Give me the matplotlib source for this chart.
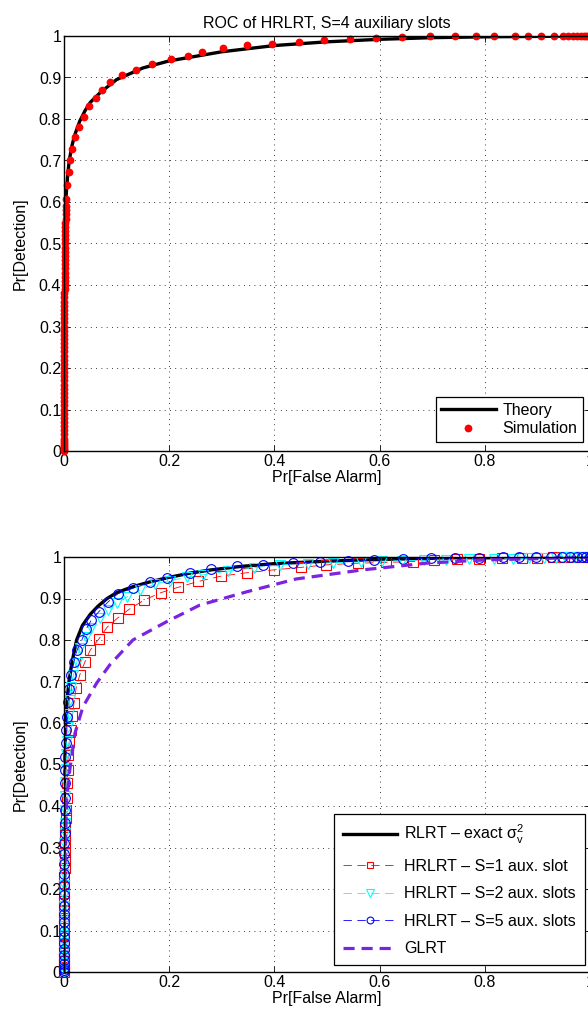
#!/usr/bin/env python
import matplotlib
matplotlib.use('Agg')
import matplotlib.pyplot as plt

# ---- top panel: ROC of HRLRT, S=4 ----
theory_pfa = [0.0, 0.0005, 0.001, 0.002, 0.004, 0.007, 0.01, 0.015, 0.02, 0.03, 0.04, 0.05,
              0.07, 0.1, 0.15, 0.2, 0.3, 0.4, 0.5, 0.6, 0.7, 0.8, 0.9, 1.0]
theory_pd = [0.0, 0.3, 0.42, 0.53, 0.615, 0.665, 0.70, 0.735, 0.76, 0.795, 0.82, 0.84,
             0.865, 0.895, 0.923, 0.94, 0.962, 0.977, 0.986, 0.992, 0.996, 0.998, 0.999, 1.0]

sim_pfa_low = [0.0, 0.0, 0.0, 0.0, 0.0, 0.0, 0.0, 0.0, 0.0, 0.0, 0.0, 0.0, 0.0,
               0.00003, 0.00004, 0.00005, 0.00006, 0.00007, 0.00008, 0.0001, 0.00011,
               0.00013, 0.00015, 0.00017, 0.0002,
               0.00022, 0.00025, 0.00028, 0.00031, 0.00034, 0.00037, 0.0004, 0.00044,
               0.00048, 0.0005,
               0.00055, 0.0006, 0.00065, 0.0007, 0.00075, 0.0008, 0.00087, 0.00094,
               0.001, 0.00105,
               0.0011, 0.0012, 0.0013, 0.0014, 0.0015, 0.0016, 0.0017, 0.0018, 0.0019, 0.002,
               0.0022, 0.0023, 0.0025, 0.0026, 0.0028, 0.003, 0.0031, 0.0033, 0.0035]
sim_pd_low = [0.0, 0.003, 0.006, 0.01, 0.015, 0.02, 0.025, 0.03, 0.04, 0.05, 0.06, 0.07, 0.08,
              0.09, 0.10, 0.11, 0.12, 0.13, 0.14, 0.15, 0.16, 0.17, 0.18, 0.19, 0.20,
              0.21, 0.22, 0.23, 0.24, 0.25, 0.26, 0.27, 0.28, 0.29, 0.30,
              0.31, 0.32, 0.33, 0.34, 0.35, 0.36, 0.37, 0.38, 0.39, 0.40,
              0.41, 0.42, 0.43, 0.44, 0.45, 0.46, 0.47, 0.48, 0.49, 0.50,
              0.51, 0.52, 0.53, 0.54, 0.55, 0.56, 0.57, 0.58, 0.59]
sim_pfa_high = [0.004, 0.0064, 0.009, 0.012, 0.016, 0.021, 0.028, 0.038, 0.048, 0.060,
                0.073, 0.088, 0.111, 0.137, 0.167, 0.203, 0.235, 0.263, 0.302, 0.347,
                0.396, 0.447, 0.495, 0.544, 0.593, 0.643, 0.696, 0.744, 0.784, 0.818,
                0.858, 0.883, 0.907, 0.931, 0.949, 0.959, 0.967, 0.975, 0.982, 0.988,
                0.993, 0.997, 1.0]
sim_pd_high = [0.608, 0.640, 0.672, 0.702, 0.727, 0.757, 0.781, 0.806, 0.831, 0.851,
               0.869, 0.888, 0.907, 0.919, 0.933, 0.944, 0.952, 0.962, 0.971, 0.978,
               0.981, 0.985, 0.990, 0.992, 0.994, 0.998, 0.999, 0.999, 0.999, 1.0,
               1.0, 1.0, 1.0, 1.0, 1.0, 1.0, 1.0, 1.0, 1.0, 1.0,
               1.0, 1.0, 1.0]

# ---- bottom panel: comparison ----
rlrt_pfa = [0.0, 0.0003, 0.001, 0.002, 0.004, 0.007, 0.0095, 0.015, 0.024, 0.035, 0.05, 0.065,
            0.082, 0.1, 0.13, 0.163, 0.2, 0.239, 0.28, 0.334, 0.4, 0.5, 0.6, 0.7, 0.8, 0.9, 1.0]
rlrt_pd = [0.0, 0.3, 0.45, 0.55, 0.62, 0.67, 0.70, 0.745, 0.80, 0.835, 0.862, 0.882,
           0.90, 0.914, 0.928, 0.94, 0.951, 0.961, 0.969, 0.977, 0.984, 0.99, 0.994, 0.997,
           0.998, 0.999, 1.0]

s1_pfa = [0.0, 0.0, 0.0, 0.0, 0.0, 0.0001, 0.0001, 0.0002, 0.0002, 0.0003, 0.0004,
          0.0005, 0.0006, 0.0008, 0.001, 0.0012, 0.0015, 0.0018, 0.0022, 0.0027, 0.0033,
          0.004, 0.005, 0.006, 0.007, 0.008, 0.010, 0.013, 0.016, 0.019, 0.023, 0.030,
          0.040, 0.050, 0.066, 0.082, 0.102, 0.124, 0.152, 0.184, 0.217, 0.255, 0.299,
          0.347, 0.399, 0.451, 0.498, 0.558, 0.612, 0.663, 0.704, 0.748, 0.789, 0.833,
          0.87, 0.90, 0.93, 0.95, 0.97, 0.985, 1.0]
s1_pd = [0.0, 0.01, 0.02, 0.035, 0.05, 0.07, 0.09, 0.11, 0.13, 0.15, 0.17,
         0.19, 0.21, 0.23, 0.25, 0.27, 0.29, 0.31, 0.33, 0.35, 0.37,
         0.39, 0.42, 0.455, 0.487, 0.523, 0.555, 0.583, 0.616, 0.648, 0.684, 0.716,
         0.748, 0.776, 0.802, 0.831, 0.853, 0.874, 0.896, 0.914, 0.927, 0.941, 0.954,
         0.962, 0.969, 0.975, 0.981, 0.985, 0.987, 0.989, 0.993, 0.995, 0.996, 0.997,
         0.998, 0.998, 0.999, 0.999, 1.0, 1.0, 1.0]

s2_pfa = [0.0, 0.0, 0.0, 0.0, 0.0, 0.0001, 0.0001, 0.0001, 0.0002, 0.0002, 0.0003,
          0.0004, 0.0005, 0.0006, 0.0007, 0.0009, 0.0011, 0.0013, 0.0016, 0.002, 0.0025,
          0.003, 0.004, 0.005, 0.007, 0.009, 0.011, 0.014, 0.018, 0.024, 0.030, 0.042,
          0.052, 0.068, 0.084, 0.100, 0.120, 0.144, 0.173, 0.201, 0.233, 0.264, 0.312,
          0.362, 0.41, 0.463, 0.511, 0.565, 0.605, 0.643, 0.685, 0.726, 0.770, 0.818,
          0.853, 0.884, 0.913, 0.935, 0.952, 0.970, 0.983, 1.0]
s2_pd = [0.0, 0.01, 0.02, 0.035, 0.05, 0.07, 0.09, 0.11, 0.135, 0.16, 0.185,
         0.21, 0.235, 0.26, 0.285, 0.31, 0.335, 0.36, 0.39, 0.425, 0.458,
         0.49, 0.525, 0.557, 0.59, 0.622, 0.655, 0.687, 0.716, 0.745, 0.781, 0.807,
         0.829, 0.853, 0.872, 0.889, 0.904, 0.920, 0.935, 0.943, 0.951, 0.957, 0.966,
         0.974, 0.981, 0.984, 0.986, 0.988, 0.990, 0.991, 0.992, 0.993, 0.994, 0.995,
         0.996, 0.997, 0.997, 0.998, 0.999, 0.999, 1.0, 1.0]

s5_pfa = [0.0, 0.0, 0.0, 0.0, 0.0, 0.0, 0.0, 0.0001, 0.0001, 0.0001, 0.0002,
          0.0002, 0.0003, 0.0003, 0.0004, 0.0005, 0.0006, 0.0007, 0.0008, 0.001, 0.0011,
          0.0013, 0.0015, 0.0018, 0.0022, 0.0027, 0.0033, 0.004, 0.005, 0.007, 0.010,
          0.014, 0.019, 0.025, 0.034, 0.042, 0.052, 0.066, 0.084, 0.103, 0.132, 0.163,
          0.195, 0.239, 0.279, 0.328, 0.378, 0.435, 0.486, 0.540, 0.590, 0.644, 0.698,
          0.744, 0.789, 0.834, 0.865, 0.898, 0.925, 0.947, 0.962, 0.975, 0.985, 0.993, 1.0]
s5_pd = [0.0, 0.005, 0.01, 0.02, 0.03, 0.04, 0.055, 0.07, 0.085, 0.1, 0.12,
         0.14, 0.16, 0.185, 0.21, 0.235, 0.26, 0.285, 0.31, 0.335, 0.36,
         0.39, 0.42, 0.455, 0.487, 0.519, 0.551, 0.583, 0.615, 0.650, 0.682,
         0.716, 0.748, 0.776, 0.80, 0.826, 0.848, 0.868, 0.892, 0.912, 0.925, 0.939,
         0.949, 0.961, 0.970, 0.978, 0.981, 0.985, 0.989, 0.991, 0.993, 0.995, 0.997,
         0.998, 0.998, 0.999, 0.999, 0.999, 1.0, 1.0, 1.0, 1.0, 1.0, 1.0, 1.0]

glrt_pfa = [0.0, 0.0005, 0.001, 0.003, 0.005, 0.011, 0.021, 0.036, 0.062, 0.087, 0.131,
            0.195, 0.258, 0.347, 0.441, 0.568, 0.688, 0.80, 0.9, 1.0]
glrt_pd = [0.0, 0.1, 0.2, 0.33, 0.414, 0.487, 0.576, 0.639, 0.696, 0.740, 0.80,
           0.844, 0.884, 0.916, 0.947, 0.969, 0.985, 0.993, 0.996, 1.0]

xticks = [0, 0.2, 0.4, 0.6, 0.8, 1.0]
xticklabels = ['0', '0.2', '0.4', '0.6', '0.8', '1']
yticks = [0, 0.1, 0.2, 0.3, 0.4, 0.5, 0.6, 0.7, 0.8, 0.9, 1.0]
yticklabels = ['0', '0.1', '0.2', '0.3', '0.4', '0.5', '0.6', '0.7', '0.8', '0.9', '1']

FS = 11.5


def style_axes(ax):
    ax.set_xlim(0, 1)
    ax.set_ylim(0, 1)
    ax.set_xticks(xticks)
    ax.set_xticklabels(xticklabels)
    ax.set_yticks(yticks)
    ax.set_yticklabels(yticklabels)
    ax.tick_params(direction='in', top=True, right=True, length=4, width=0.6,
                   labelsize=FS, pad=2)
    ax.grid(True, color='#202020', linestyle=(0, (0.6, 3.2)), linewidth=0.7)
    for sp in ax.spines.values():
        sp.set_linewidth(1.0)
    ax.set_xlabel('Pr[False Alarm]', fontsize=FS, labelpad=1)
    ax.set_ylabel('Pr[Detection]', fontsize=FS, labelpad=8)


def main():
    plt.rcParams['font.family'] = ['Liberation Sans', 'DejaVu Sans']
    plt.rcParams['mathtext.fontset'] = 'custom'
    plt.rcParams['mathtext.rm'] = 'Liberation Sans'
    plt.rcParams['mathtext.it'] = 'Liberation Sans'
    plt.rcParams['lines.scale_dashes'] = False

    fig = plt.figure(figsize=(5.88, 10.21), dpi=100)
    ax1 = fig.add_axes([64 / 588, 570 / 1021, 526 / 588, 415 / 1021])
    ax2 = fig.add_axes([64 / 588, 49 / 1021, 526 / 588, 415 / 1021])

    # top
    ax1.plot(theory_pfa, theory_pd, color='k', linewidth=2.4, label='Theory')
    ax1.plot(sim_pfa_low + sim_pfa_high, sim_pd_low + sim_pd_high, linestyle='none',
             marker='o', markersize=5.6, color='#ff0000', markeredgewidth=0,
             clip_on=False, label='Simulation')
    style_axes(ax1)
    ax1.set_title('ROC of HRLRT, S=4 auxiliary slots', fontsize=FS, pad=6)
    ax1.legend(loc='lower right', bbox_to_anchor=(0.987, 0.022), borderaxespad=0,
               fancybox=False, framealpha=1, edgecolor='k', fontsize=FS,
               handlelength=3.4, handletextpad=0.45, labelspacing=0.2,
               borderpad=0.35).get_frame().set_linewidth(0.9)

    # bottom
    ax2.plot(rlrt_pfa, rlrt_pd, color='k', linewidth=2.4, label='RLRT \u2013 exact $\\sigma_v^2$')
    ax2.plot(s1_pfa, s1_pd, color='#ff0000', linewidth=0.6, dashes=(6, 4), marker='s',
             markersize=6.5, markerfacecolor='none', markeredgewidth=0.8, clip_on=False,
             label='HRLRT \u2013 S=1 aux. slot')
    ax2.plot(s2_pfa, s2_pd, color='#00ffff', linewidth=0.6, dashes=(6, 4), marker='v',
             markersize=7.5, markerfacecolor='none', markeredgewidth=0.8, clip_on=False,
             label='HRLRT \u2013 S=2 aux. slots')
    ax2.plot(s5_pfa, s5_pd, color='#0000ff', linewidth=0.6, dashes=(6, 4), marker='o',
             markersize=7, markerfacecolor='none', markeredgewidth=0.8, clip_on=False,
             label='HRLRT \u2013 S=5 aux. slots')
    ax2.plot(glrt_pfa, glrt_pd, color='#7b24e0', linewidth=2.3, dashes=(8, 5), label='GLRT')
    style_axes(ax2)
    ax2.legend(loc='lower right', bbox_to_anchor=(0.990, 0.017), borderaxespad=0,
               fancybox=False, framealpha=1, edgecolor='k', fontsize=FS,
               handlelength=3.4, handletextpad=0.45, labelspacing=0.78,
               borderpad=0.55, markerscale=0.7).get_frame().set_linewidth(0.9)

    fig.savefig('out.png', dpi=100)


if __name__ == '__main__':
    main()
